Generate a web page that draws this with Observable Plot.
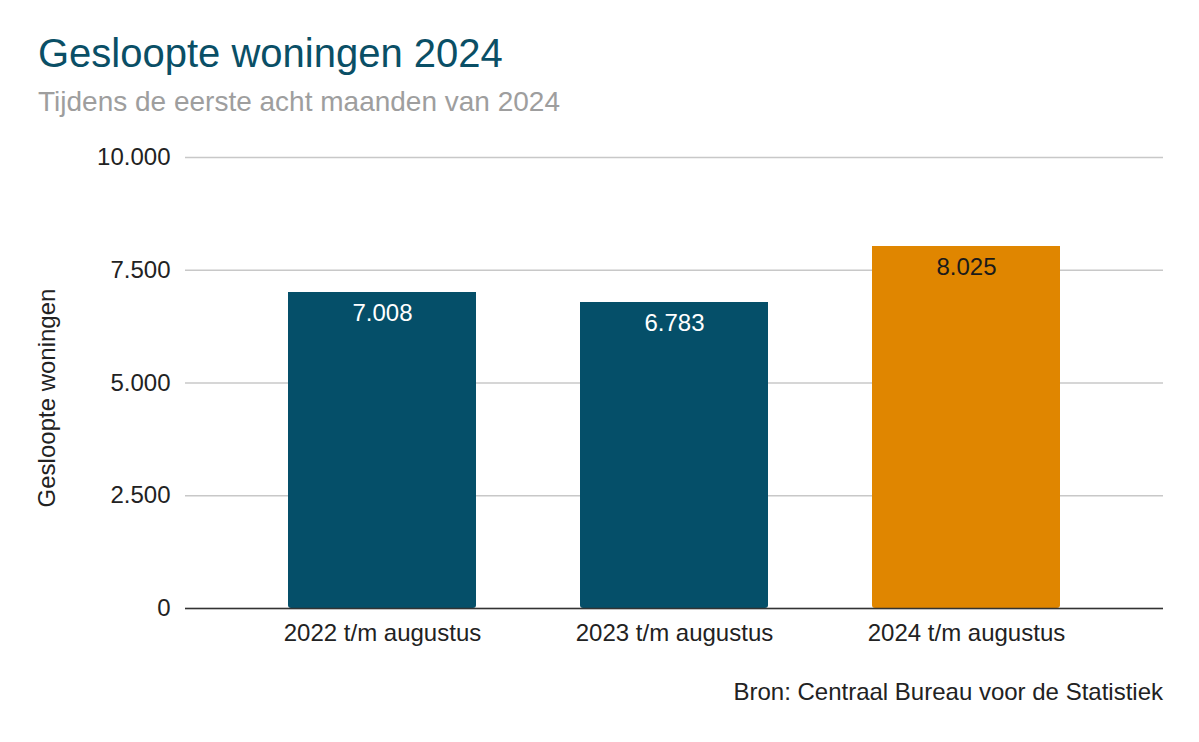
<!DOCTYPE html>
<html><head><meta charset="utf-8">
<script src="https://cdn.jsdelivr.net/npm/d3@7"></script>
<script src="https://cdn.jsdelivr.net/npm/@observablehq/plot@0.6"></script>
<style>
body{margin:0;background:#fff;font-family:"Liberation Sans",Arial,sans-serif;}
#wrap{position:relative;width:1199px;height:742px;overflow:hidden;}
#title{position:absolute;left:38px;top:33px;font-size:40px;line-height:1;color:#0a4f66;white-space:nowrap;}
#subtitle{position:absolute;left:38px;top:88px;font-size:28px;line-height:1;color:#9e9e9e;white-space:nowrap;}
#chart{position:absolute;left:0;top:130px;}
#caption{position:absolute;right:36px;top:680px;font-size:24px;line-height:1;color:#222;white-space:nowrap;}
</style></head><body>
<div id="wrap">
<div id="title">Gesloopte woningen 2024</div>
<div id="subtitle">Tijdens de eerste acht maanden van 2024</div>
<div id="chart"></div>
<div id="caption">Bron: Centraal Bureau voor de Statistiek</div>
</div>
<script>
const categories = ["2022 t/m augustus", "2023 t/m augustus", "2024 t/m augustus"];
const values = [7008, 6783, 8025];
const yTicks = [0, 2500, 5000, 7500, 10000];
const yLabel = "Gesloopte woningen";
const highlight = "2024 t/m augustus";

const BLUE = "#054f69", ORANGE = "#e08600";
const data = categories.map((c, i) => ({category: c, value: values[i]}));
const nl = d3.formatLocale({decimal: ",", thousands: ".", grouping: [3], currency: ["€", ""]});
const fmt = nl.format(",d");

const chart = Plot.plot({
  width: 1199, height: 530,
  marginTop: 27, marginBottom: 52, marginLeft: 185, marginRight: 36,
  style: {fontFamily: "Liberation Sans, Arial, sans-serif", fontSize: "24px", color: "#222", background: "transparent"},
  x: {domain: categories, paddingInner: 0.355, paddingOuter: 0.3465, label: null},
  y: {domain: [0, 10000], label: null},
  color: {type: "identity"},
  marks: [
    Plot.gridY(yTicks, {stroke: "#c8c8c8", strokeOpacity: 1, strokeWidth: 1.3}),
    Plot.barY(data, {x: "category", y: "value", fill: d => d.category === highlight ? ORANGE : BLUE, ry2: 3}),
    Plot.ruleY([0], {stroke: "#333", strokeWidth: 1.5}),
    Plot.axisY(yTicks, {tickSize: 0, tickPadding: 15, tickFormat: fmt, fontSize: 24, label: null}),
    Plot.axisX({tickSize: 0, tickPadding: 15, fontSize: 24, label: null}),
    Plot.text(data, {x: "category", y: "value", text: d => fmt(d.value), dy: 21, fontSize: 24,
      fill: d => d.category === highlight ? "#1a1a1a" : "#ffffff"}),
    Plot.text([yLabel], {frameAnchor: "left", textAnchor: "middle", rotate: -90, dx: -138, dy: 15, fontSize: 24, fill: "#222"})
  ]
});
document.getElementById("chart").appendChild(chart);
</script>
</body></html>
